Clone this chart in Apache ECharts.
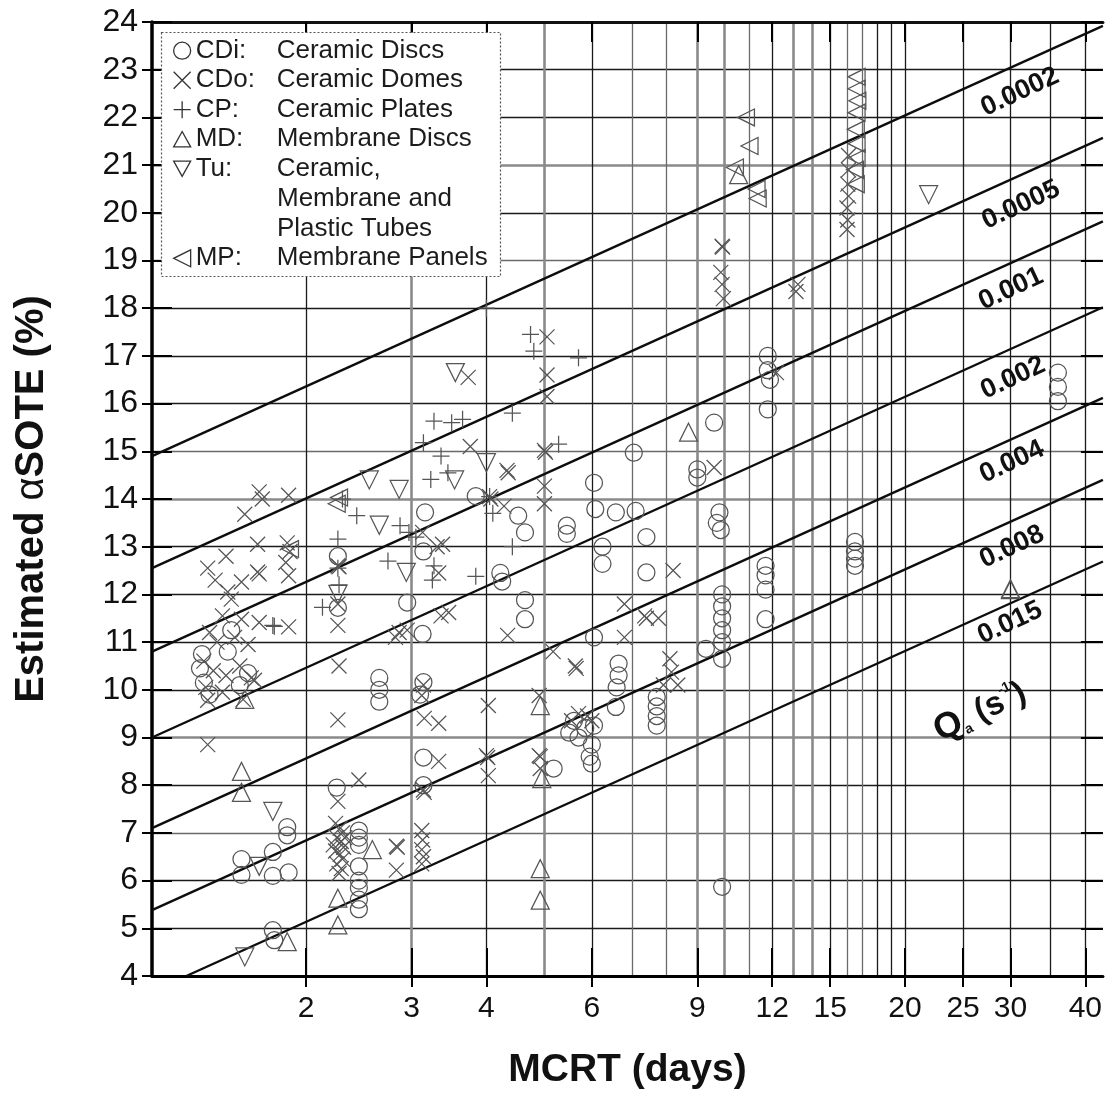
<!DOCTYPE html>
<html>
<head>
<meta charset="utf-8">
<script src="https://cdn.jsdelivr.net/npm/echarts@6/dist/echarts.min.js"></script>
<style>
html, body { margin: 0; padding: 0; background: #fff; }
#chart { width: 1105px; height: 1095px; }
</style>
</head>
<body>
<div id="chart"></div>
<script>
// ---- axis values ----
const mcrtMin = 1.106;
const mcrtMax = 42.8;
const mcrtTicks = [2, 3, 4, 6, 9, 12, 15, 20, 25, 30, 40];
const mcrtGridDark = [2, 4, 6, 12, 15, 18, 19, 20, 25, 30, 35, 40];
const mcrtGridLight = [7, 8, 11, 16, 17];
const mcrtGridHeavy = [3, 5, 9, 10, 13, 14];
const soteGridDark = [5, 6, 8, 10, 11, 12, 13, 16, 17, 18, 20, 22, 23];
const soteGridLight = [7, 15, 19];
const soteGridHeavy = [9, 14, 21];

// ---- constant air-flux lines (MCRT, alpha SOTE at both ends) ----
const qaLabels = ['0.0002', '0.0005', '0.001', '0.002', '0.004', '0.008', '0.015'];
const qaStartMcrt = [1.106, 1.106, 1.106, 1.106, 1.106, 1.106, 1.262];
const qaStartSote = [14.9, 12.55, 10.8, 9.0, 7.1, 5.38, 4.0];
const qaEndMcrt = [42.8, 42.8, 42.8, 42.8, 42.8, 42.8, 42.8];
const qaEndSote = [23.92, 21.57, 19.82, 18.02, 16.12, 14.4, 12.69];

// ---- diffuser groups ----
const groupCodes = ['CDi', 'CDo', 'CP', 'MD', 'Tu', 'MP'];
const groupNames = ['Ceramic Discs', 'Ceramic Domes', 'Ceramic Plates', 'Membrane Discs', 'Ceramic,', 'Membrane Panels'];
const tubesExtraLines = ['Membrane and', 'Plastic Tubes'];

// [MCRT (days), alpha SOTE (%)]
const ceramicDiscs = [
  [1.34,10.75],[1.33,10.45],[1.35,10.15],[1.38,9.9],[1.48,10.8],[1.55,10.1],[1.6,10.35],[1.5,11.25],
  [1.56,6.45],[1.56,6.12],[1.76,6.6],[1.76,6.1],[1.87,6.17],[1.86,7.12],[1.86,6.95],[1.76,4.96],[1.77,4.75],
  [2.25,7.95],[2.26,12.8],[2.26,11.72],
  [2.45,7.05],[2.45,6.9],[2.45,6.75],[2.45,6.3],[2.45,6.0],[2.45,5.85],[2.45,5.6],[2.45,5.4],
  [2.65,10.25],[2.65,10.0],[2.65,9.75],
  [2.95,11.83],[3.13,11.17],[3.14,10.16],[3.1,9.9],[3.14,8.58],[3.14,8.0],[3.16,13.72],[3.14,12.9],
  [3.84,14.06],[4.22,12.45],[4.25,12.27],[4.52,13.65],[4.64,13.3],[4.64,11.88],[4.64,11.48],
  [5.18,8.35],[5.45,13.44],[5.45,13.27],
  [5.6,9.35],[5.5,9.1],[5.7,9.0],[5.85,9.2],[6.0,8.85],[5.95,8.6],[6.0,8.45],[6.05,9.25],
  [6.05,14.34],[6.08,13.79],[6.05,11.1],[6.25,13.0],[6.25,12.64],
  [6.58,13.72],[6.65,10.55],[6.65,10.3],[6.6,10.05],[6.58,9.64],
  [7.05,14.97],[7.1,13.75],[7.4,13.2],[7.4,12.46],
  [7.7,9.85],[7.7,9.65],[7.7,9.45],[7.7,9.25],
  [9.0,14.62],[9.0,14.45],[9.6,15.6],[9.3,10.86],
  [9.8,13.72],[9.7,13.5],[9.85,13.35],[9.9,12.0],[9.9,11.75],[9.9,11.5],[9.9,11.25],[9.9,11.0],[9.9,10.65],[9.9,5.87],
  [11.8,17.0],[11.8,16.7],[11.9,16.5],[11.8,15.88],[11.7,12.6],[11.7,12.4],[11.7,12.1],[11.7,11.48],
  [16.5,13.1],[16.5,12.9],[16.5,12.75],[16.5,12.6],
  [36,16.65],[36,16.35],[36,16.05]
];
const ceramicDomes = [
  [1.37,12.55],[1.47,12.8],[1.58,13.68],[1.67,14.15],[1.69,14.0],[1.87,14.08],[1.66,13.05],[1.86,13.08],[1.88,12.9],
  [1.41,12.3],[1.48,12.05],[1.56,12.26],[1.66,12.47],[1.67,12.43],[1.85,12.67],[1.87,12.39],[1.5,11.9],[1.56,11.48],
  [1.67,11.41],[1.87,11.32],[1.45,11.55],[1.38,11.2],[1.42,11.0],[1.52,11.1],[1.6,10.95],[1.35,10.6],[1.4,10.4],
  [1.47,10.3],[1.55,10.5],[1.62,10.25],[1.64,10.2],[1.36,10.05],[1.45,9.95],[1.57,9.8],[1.37,9.78],[1.37,8.85],
  [2.26,9.37],[2.26,7.66],[2.45,8.11],[2.27,10.5],[2.26,12.6],[2.27,12.58],[2.26,11.8],[2.26,11.35],
  [2.82,11.1],[2.86,11.2],[2.95,11.25],
  [2.24,7.2],[2.28,7.1],[2.3,7.0],[2.25,6.9],[2.29,6.82],[2.31,6.7],[2.24,6.62],[2.28,6.55],[2.3,6.45],
  [2.25,6.35],[2.29,6.25],[2.27,6.15],[2.32,6.9],[2.22,6.75],
  [2.83,6.72],[2.84,6.7],[2.83,6.22],
  [3.12,7.05],[3.13,6.85],[3.12,6.65],[3.14,6.5],[3.12,6.35],
  [3.14,7.9],[3.15,7.85],[3.33,8.5],[3.15,9.4],[3.33,9.3],[3.12,9.88],[3.14,10.1],
  [3.31,13.0],[3.38,13.05],[3.13,13.3],[3.36,11.55],[3.46,11.62],[3.33,12.45],
  [3.73,16.55],[3.76,15.1],[4.33,14.6],[4.35,14.55],[4.05,14.05],[4.07,14.0],[4.28,13.85],[4.34,11.14],
  [4.03,9.67],[4.0,8.62],[4.02,8.58],[4.03,8.2],
  [4.9,9.88],[4.9,8.62],[4.92,8.6],[4.92,8.35],
  [5.05,17.4],[5.05,16.6],[5.05,16.15],[5.0,15.02],[5.02,14.98],[5.0,14.27],[5.0,13.9],
  [5.17,10.8],[5.63,10.5],[5.65,10.45],[5.7,9.5],[5.9,9.45],[6.0,9.35],[5.55,9.35],
  [6.8,11.8],[6.8,11.1],[7.35,11.55],[7.4,11.5],[7.75,11.5],
  [8.2,12.5],[8.1,10.65],[8.15,10.37],[7.9,10.1],[8.35,10.1],
  [9.6,14.66],[9.9,19.3],[9.92,19.28],[9.85,18.75],[9.9,18.5],[9.95,18.2],
  [12.2,16.65],[13.15,18.35],[13.25,18.5],
  [16.1,21.2],[16.1,20.9],[16.05,20.6],[16.1,20.35],[16.0,20.1],[16.05,19.85],[16.0,19.65]
];
const ceramicPlates = [
  [1.76,11.35],[1.77,11.33],[2.26,13.16],[2.26,12.55],[2.27,12.2],[2.13,11.73],[2.3,14.0],[2.43,13.65],
  [2.74,12.7],[2.87,13.44],[2.97,13.3],[3.05,13.2],[3.27,12.6],[3.25,12.3],[3.23,14.41],[3.45,14.55],
  [3.14,15.18],[3.36,14.9],[3.27,15.63],[3.5,15.6],[3.65,15.67],[4.0,18.0],[4.42,15.8],[4.74,17.45],
  [4.8,17.1],[4.05,14.05],[4.1,13.7],[4.42,13.0],[3.84,12.38],[5.28,15.15],[5.7,16.96]
];
const membraneDiscs = [
  [1.58,9.8],[1.56,8.29],[1.56,7.85],[1.86,4.72],[2.26,5.63],[2.26,5.07],[2.58,6.65],
  [4.92,9.67],[4.95,8.14],[4.92,6.25],[4.92,5.59],[8.7,15.4],[10.55,20.8],[30,12.1],[30,12.12]
];
const tubes = [
  [1.76,7.45],[1.67,6.3],[1.58,4.4],[2.26,12.0],[2.55,14.4],[2.65,13.45],[2.86,14.2],[2.94,12.46],
  [3.54,14.4],[3.55,16.65],[4.0,14.76],[21.9,20.38]
];
const membranePanels = [
  [1.88,12.95],[2.27,14.03],[2.25,13.9],[10.85,22.0],[11.0,21.4],[10.4,20.95],[11.3,20.5],[11.35,20.3],
  [16.6,22.85],[16.6,22.6],[16.65,22.35],[16.6,22.1],[16.55,21.75],[16.6,21.45],[16.6,21.15],[16.5,20.9],[16.55,20.6]
];
const groupData = [ceramicDiscs, ceramicDomes, ceramicPlates, membraneDiscs, tubes, membranePanels];

// ---- styling ----
const FONT = 'Liberation Sans, Arial, Helvetica, sans-serif';
const INK = '#111';
const MARK = '#555';
const symbols = [
  'circle',
  'path://M0,0L10,10M10,0L0,10',
  'path://M5,0L5,10M0,5L10,5',
  'path://M5,0L10,9L0,9Z',
  'path://M0,0L10,0L5,9Z',
  'path://M10,0L10,10L0,5Z'
];
const symbolSizes = [17, 15, 17, 18, 18, 17];

const chart = echarts.init(document.getElementById('chart'), null, { renderer: 'canvas' });

function logAxis(extra) {
  return Object.assign({
    type: 'log', logBase: 10, min: mcrtMin, max: mcrtMax, position: 'bottom',
    axisLine: { show: false }, axisTick: { show: false }, axisLabel: { show: false },
    splitLine: { show: false }, minorTick: { show: false }, minorSplitLine: { show: false }
  }, extra);
}
function soteAxis(extra) {
  return Object.assign({
    type: 'value', min: 4, max: 24, interval: 1, position: 'left',
    axisLine: { show: false }, axisTick: { show: false }, axisLabel: { show: false },
    splitLine: { show: false }
  }, extra);
}
function gridLines(values, color, width) {
  return {
    axisTick: { show: false, customValues: values },
    splitLine: { show: true, lineStyle: { color: color, width: width } }
  };
}

const xAxes = [
  logAxis({
    axisLine: { show: true, onZero: false, lineStyle: { color: '#000', width: 3 } },
    axisTick: { show: true, inside: true, length: 28, customValues: mcrtTicks, lineStyle: { color: '#000', width: 2 } },
    axisLabel: { show: true, customValues: mcrtTicks, margin: 18, fontSize: 30, color: INK, fontFamily: FONT,
                 formatter: v => String(Math.round(v)) },
    name: 'MCRT (days)', nameLocation: 'middle', nameGap: 75,
    nameTextStyle: { fontSize: 39, fontWeight: 'bold', color: INK, fontFamily: FONT }
  }),
  logAxis({ axisTick: { show: true, inside: false, length: 11, customValues: mcrtTicks, lineStyle: { color: '#000', width: 2 } } }),
  logAxis({
    position: 'top',
    axisLine: { show: true, onZero: false, lineStyle: { color: '#111', width: 3 } },
    axisTick: { show: true, inside: true, length: 20, customValues: mcrtTicks, lineStyle: { color: '#000', width: 2 } }
  }),
  logAxis(gridLines(mcrtGridDark, '#1a1a1a', 1.3)),
  logAxis(gridLines(mcrtGridLight, '#6a6a6a', 1.3)),
  logAxis(gridLines(mcrtGridHeavy, '#8a8a8a', 2.6))
];

const yAxes = [
  soteAxis({
    axisLine: { show: true, onZero: false, lineStyle: { color: '#000', width: 3.5 } },
    axisTick: { show: true, inside: false, length: 10, lineStyle: { color: '#000', width: 2 } },
    axisLabel: { show: true, margin: 14, fontSize: 32, color: INK, fontFamily: FONT },
    name: '{b|Estimated }{g|α}{b|SOTE (%)}', nameLocation: 'middle', nameGap: 100, nameRotate: 90,
    nameTextStyle: {
      color: INK,
      rich: {
        b: { fontSize: 40, fontWeight: 'bold', fontFamily: FONT, color: INK },
        g: { fontSize: 40, fontWeight: 'normal', fontFamily: FONT, color: INK }
      }
    }
  }),
  soteAxis({ axisTick: { show: true, inside: true, length: 20, lineStyle: { color: '#000', width: 2 } } }),
  soteAxis({ position: 'right', axisTick: { show: true, inside: true, length: 22, lineStyle: { color: '#000', width: 2 } } }),
  soteAxis(gridLines(soteGridDark, '#1a1a1a', 1.3)),
  soteAxis(gridLines(soteGridLight, '#6a6a6a', 1.3)),
  soteAxis(gridLines(soteGridHeavy, '#8a8a8a', 2.6))
];

const series = [];
qaLabels.forEach((label, i) => {
  series.push({
    name: 'Qa ' + label, type: 'line', xAxisIndex: 0, yAxisIndex: 0,
    data: [[qaStartMcrt[i], qaStartSote[i]], [qaEndMcrt[i], qaEndSote[i]]],
    showSymbol: false, symbol: 'none', silent: true, z: 3,
    lineStyle: { color: '#0d0d0d', width: 2.4 }
  });
});
groupCodes.forEach((code, i) => {
  series.push({
    name: code, type: 'scatter', xAxisIndex: 0, yAxisIndex: 0,
    data: groupData[i], symbol: symbols[i], symbolSize: symbolSizes[i], z: 4,
    itemStyle: { color: 'rgba(0,0,0,0)', borderColor: MARK, borderWidth: 1.25, opacity: 1 }
  });
});

const legendText = {};
groupCodes.forEach((c, i) => { legendText[c] = groupNames[i]; });
const legendCommon = {
  orient: 'vertical', left: 173, padding: 0, itemGap: 0.5, itemWidth: 17, itemHeight: 17,
  selectedMode: false, z: 8,
  itemStyle: { color: 'rgba(0,0,0,0)', borderColor: '#333', borderWidth: 1.3 },
  formatter: name => '{c|' + name + ':}{d|' + legendText[name] + '}',
  textStyle: {
    color: '#1c1c1c', fontSize: 26, fontFamily: FONT, lineHeight: 29,
    rich: {
      c: { width: 81, fontSize: 26, fontFamily: FONT, color: '#1c1c1c', lineHeight: 29 },
      d: { fontSize: 26, fontFamily: FONT, color: '#1c1c1c', lineHeight: 29 }
    }
  }
};

// line label placement (pixels) and angle
const qaLabelPos = [[1020, 92], [1021, 205], [1011, 289], [1013, 378], [1012, 462], [1012, 547], [1010, 623]];
const slope = 25 * Math.PI / 180;

const graphics = [
  {
    type: 'rect', z: 7, silent: true,
    shape: { x: 161.5, y: 32.5, width: 339, height: 244 },
    style: { fill: '#fff', stroke: '#555', lineWidth: 1.2, lineDash: [2, 2] }
  }
];
tubesExtraLines.forEach((t, i) => {
  graphics.push({
    type: 'text', z: 9, silent: true, x: 277, y: 199 + i * 29.4,
    style: { text: t, fontSize: 26, fontFamily: FONT, fill: '#1c1c1c', align: 'left', verticalAlign: 'middle' }
  });
});
qaLabels.forEach((label, i) => {
  graphics.push({
    type: 'text', z: 9, silent: true, x: qaLabelPos[i][0], y: qaLabelPos[i][1], rotation: slope,
    style: { text: label, fontSize: 27, fontWeight: 'bold', fontFamily: FONT, fill: INK, align: 'center', verticalAlign: 'middle' }
  });
});
graphics.push({
  type: 'text', z: 9, silent: true, x: 980, y: 712, rotation: slope,
  style: {
    text: '{q|Q}{s|a}{p| (s}{u|-1}{p|)}', align: 'center', verticalAlign: 'middle', fill: INK,
    rich: {
      q: { fontSize: 36, fontWeight: 'bold', fontFamily: FONT, fill: INK, verticalAlign: 'middle' },
      s: { fontSize: 14, fontWeight: 'bold', fontFamily: FONT, fill: INK, verticalAlign: 'bottom', padding: [16, 0, 0, 0] },
      p: { fontSize: 33, fontWeight: 'bold', fontFamily: FONT, fill: INK, verticalAlign: 'middle' },
      u: { fontSize: 14, fontWeight: 'bold', fontFamily: FONT, fill: INK, verticalAlign: 'top', padding: [0, 0, 16, 0] }
    }
  }
});

chart.setOption({
  animation: false,
  backgroundColor: '#fff',
  grid: { left: 152, top: 22, right: 0, bottom: 118, containLabel: false },
  xAxis: xAxes,
  yAxis: yAxes,
  legend: [
    Object.assign({}, legendCommon, { top: 36.2, data: groupCodes.slice(0, 5) }),
    Object.assign({}, legendCommon, { top: 243.8, data: groupCodes.slice(5) })
  ],
  graphic: graphics,
  series: series
});
</script>
</body>
</html>
